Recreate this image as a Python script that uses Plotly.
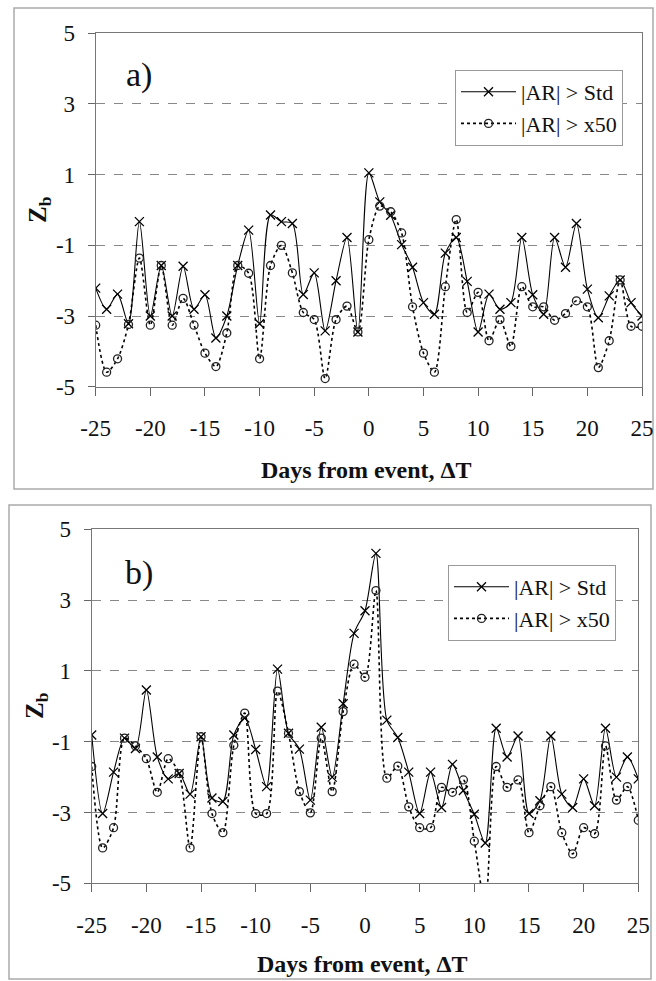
import plotly.graph_objects as go

days = [-25, -24, -23, -22, -21, -20, -19, -18, -17, -16, -15, -14, -13, -12, -11, -10,
        -9, -8, -7, -6, -5, -4, -3, -2, -1, 0, 1, 2, 3, 4, 5, 6, 7, 8, 9, 10,
        11, 12, 13, 14, 15, 16, 17, 18, 19, 20, 21, 22, 23, 24, 25]

a_std = [-2.21, -2.81, -2.38, -3.22, -0.33, -3.0, -1.57, -3.0, -1.59, -2.81, -2.4, -3.62,
         -3.0, -1.57, -0.57, -3.22, -0.14, -0.33, -0.38, -2.39, -1.78, -3.42, -2.0, -0.78,
         -3.45, 1.05, 0.23, -0.15, -0.98, -1.62, -2.62, -2.95, -1.22, -0.78, -2.02, -3.45,
         -2.38, -2.81, -2.62, -0.78, -2.4, -2.95, -0.78, -1.62, -0.38, -2.24, -3.05, -2.43,
         -1.98, -2.62, -3.0]
a_x50 = [-3.26, -4.59, -4.21, -3.24, -1.36, -3.26, -1.57, -3.26, -2.5, -3.26, -4.05, -4.43,
         -3.48, -1.57, -1.79, -4.21, -1.57, -1.0, -1.78, -2.9, -3.1, -4.77, -3.1, -2.72,
         -3.45, -0.84, 0.11, -0.05, -0.65, -2.74, -4.05, -4.59, -2.17, -0.27, -2.9, -2.33,
         -3.7, -3.1, -3.86, -2.17, -2.74, -2.74, -3.12, -2.93, -2.57, -2.74, -4.46, -3.7,
         -1.98, -3.29, -3.29]

b_std = [-0.81, -3.03, -1.86, -0.9, -1.19, 0.46, -1.43, -2.05, -1.9, -2.48, -0.86, -2.59,
         -2.69, -0.81, -0.33, -1.22, -2.27, 1.05, -0.76, -1.21, -2.65, -0.59, -2.0, 0.07,
         2.06, 2.7, 4.32, -0.39, -0.88, -1.86, -3.03, -1.86, -2.86, -1.64, -2.38, -3.05,
         -3.86, -0.62, -1.43, -0.84, -3.03, -2.67, -0.84, -2.48, -2.86, -2.05, -2.81, -0.62,
         -2.0, -1.43, -2.05]
b_x50 = [-1.7, -4.0, -3.43, -0.9, -1.12, -1.48, -2.43, -1.48, -1.9, -4.0, -0.86, -3.03,
         -3.57, -1.1, -0.19, -3.03, -3.03, 0.43, -0.76, -2.41, -3.01, -0.9, -2.41, -0.15,
         1.19, 0.82, 3.27, -2.03, -1.69, -2.84, -3.43, -3.43, -2.29, -2.43, -2.08, -3.81,
         -5.6, -1.7, -2.29, -2.08, -3.57, -2.81, -2.27, -3.57, -4.17, -3.43, -3.6, -1.12,
         -2.65, -2.27, -3.22]

x_ticks = [-25, -20, -15, -10, -5, 0, 5, 10, 15, 20, 25]
x_labels = ["-25", "-20", "-15", "-10", "-5", "0", "5", "10", "15", "20", "25"]
y_ticks = [-5, -3, -1, 1, 3, 5]
y_labels = ["-5", "-3", "-1", "1", "3", "5"]
names = ["|AR| > Std", "|AR| > x50"]

W, H = 656, 981
FONT = "Liberation Serif, Times New Roman, serif"

fig = go.Figure()

for i, (s1, s2) in enumerate([(a_std, a_x50), (b_std, b_x50)]):
    xa = "x" if i == 0 else "x2"
    ya = "y" if i == 0 else "y2"
    lg = "legend" if i == 0 else "legend2"
    fig.add_trace(go.Scatter(
        x=days, y=s1, name=names[0], mode="lines+markers", xaxis=xa, yaxis=ya, legend=lg,
        line=dict(color="black", width=1.1, shape="spline", smoothing=0.8),
        marker=dict(symbol="x-thin", size=9, line=dict(color="black", width=1.3), color="black"),
    ))
    fig.add_trace(go.Scatter(
        x=days, y=s2, name=names[1], mode="lines+markers", xaxis=xa, yaxis=ya, legend=lg,
        line=dict(color="black", width=1.6, dash="dot", shape="spline", smoothing=0.8),
        marker=dict(symbol="circle-open", size=8, line=dict(color="#222", width=1.3), color="#222"),
    ))

def xaxis(domain, anchor):
    return dict(domain=domain, anchor=anchor, range=[-25, 25], tickvals=x_ticks, ticktext=x_labels,
                ticks="outside", ticklen=8, tickcolor="#666", ticklabelstandoff=13,
                showline=True, linecolor="#777", linewidth=1, mirror=True,
                showgrid=False, zeroline=False, automargin=False,
                tickfont=dict(family=FONT, size=23, color="#111"))

def yaxis(domain, anchor):
    return dict(domain=domain, anchor=anchor, range=[-5, 5], tickvals=y_ticks, ticktext=y_labels,
                ticks="outside", ticklen=7, tickcolor="#666", ticklabelstandoff=8,
                showline=True, linecolor="#777", linewidth=1, mirror=True,
                showgrid=True, gridcolor="#888", griddash="dash", gridwidth=1,
                zeroline=False, automargin=False,
                tickfont=dict(family=FONT, size=23, color="#111"))

legend_common = dict(xanchor="left", yanchor="top", bgcolor="white",
                     bordercolor="#999", borderwidth=1,
                     font=dict(family=FONT, size=22, color="#111"),
                     itemwidth=55, tracegroupgap=0)

fig.update_layout(
    width=W, height=H, margin=dict(l=0, r=0, t=0, b=0, autoexpand=False),
    paper_bgcolor="white", plot_bgcolor="white",
    xaxis=xaxis([95.7 / W, 642 / W], "y"),
    yaxis=yaxis([(H - 386.7) / H, (H - 33.3) / H], "x"),
    xaxis2=xaxis([91.7 / W, 638.3 / W], "y2"),
    yaxis2=yaxis([(H - 883.3) / H, (H - 529.3) / H], "x2"),
    legend=dict(x=455 / W, y=1 - 70 / H, **legend_common),
    legend2=dict(x=448 / W, y=1 - 565 / H, **legend_common),
    showlegend=True,
)

# outer panel frames
fig.add_shape(type="rect", xref="paper", yref="paper",
              x0=14 / W, x1=653 / W, y0=1 - 489 / H, y1=1 - 8 / H,
              line=dict(color="#aaa", width=1.5), layer="below")
fig.add_shape(type="rect", xref="paper", yref="paper",
              x0=9 / W, x1=651 / W, y0=1 - 979 / H, y1=1 - 505 / H,
              line=dict(color="#aaa", width=1.5), layer="below")

ann = []
common = dict(xref="paper", yref="paper", showarrow=False, xanchor="center", yanchor="middle")
for lab, cx, cy in [("a)", 139, 75), ("b)", 139, 573)]:
    ann.append(dict(text=lab, x=cx / W, y=1 - cy / H,
                    font=dict(family=FONT, size=34, color="#111"), **common))
for cx, cy in [(40, 210), (36, 706)]:
    ann.append(dict(text="<b>Z<sub>b</sub></b>", x=cx / W, y=1 - cy / H, textangle=-90,
                    font=dict(family=FONT, size=25, color="#111"), **common))
for cx, cy in [(366, 470), (362, 964)]:
    ann.append(dict(text="<b>Days from event, ΔT</b>", x=cx / W, y=1 - cy / H,
                    font=dict(family=FONT, size=24, color="#111"), **common))
fig.update_layout(annotations=ann)

fig.write_html("out.html")
